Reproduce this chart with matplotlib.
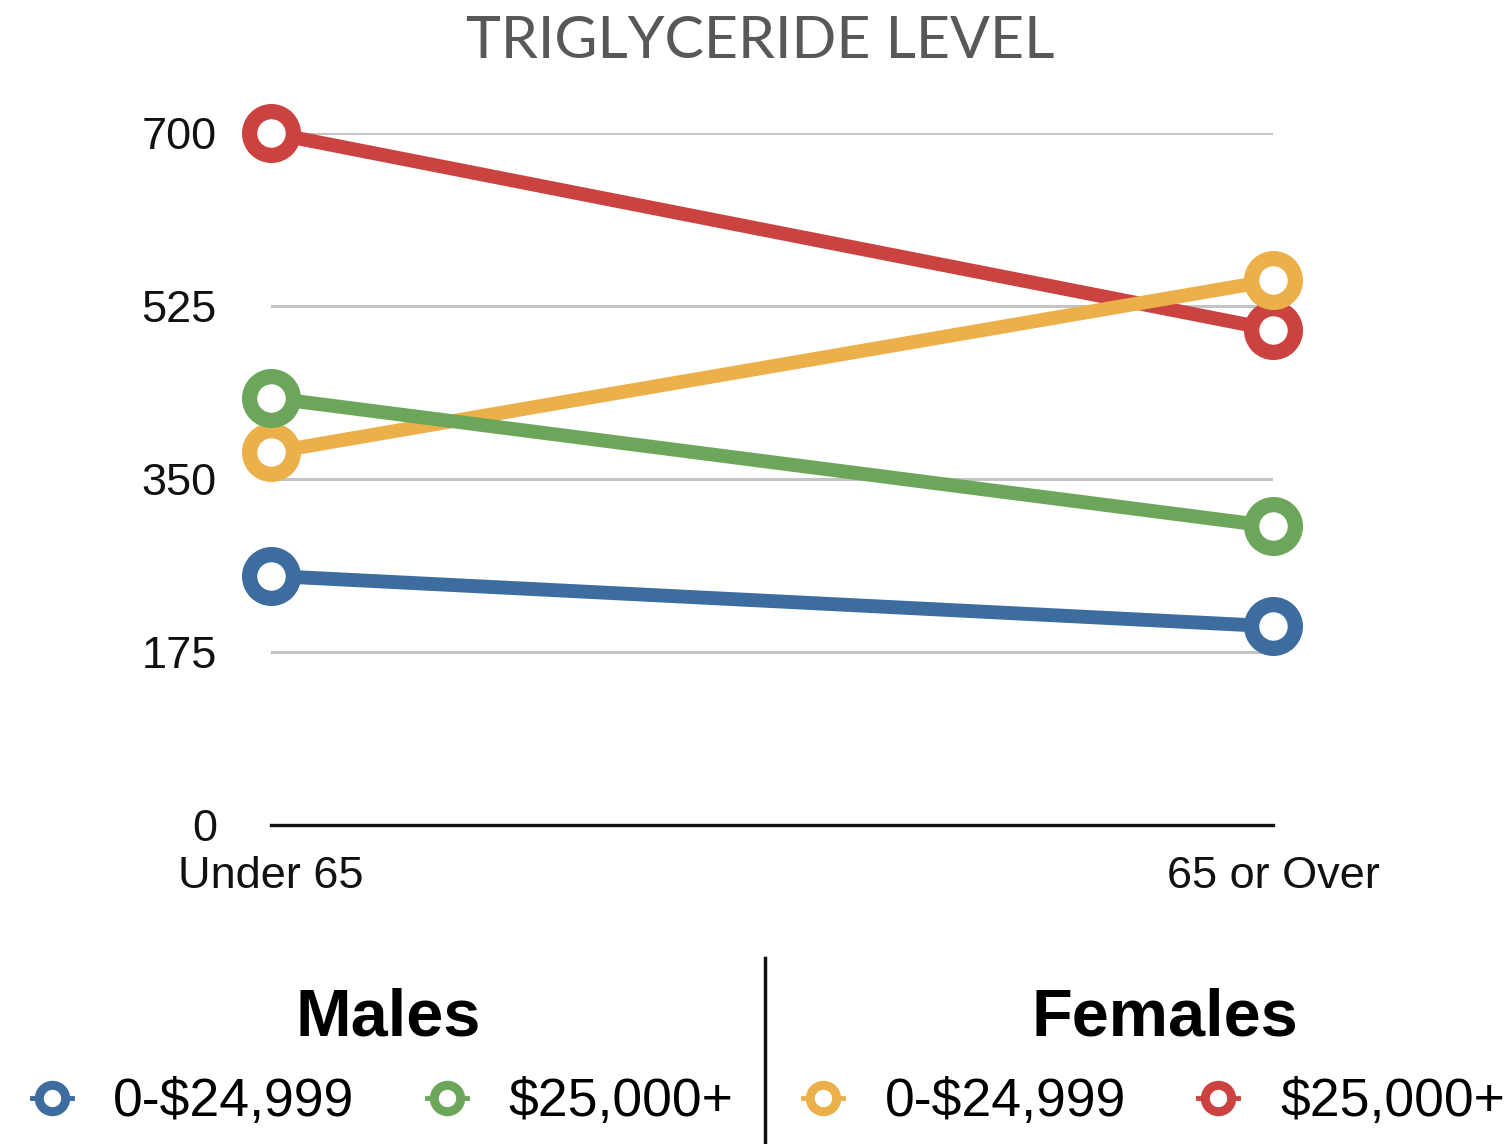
import matplotlib
matplotlib.use("Agg")
import matplotlib.pyplot as plt
from matplotlib.lines import Line2D

# data
groups = ["Under 65", "65 or Over"]
male_low = [252, 201]
male_high = [432, 302]
female_low = [377, 551]
female_high = [700, 501]
yticks = [0, 175, 350, 525, 700]

blue = "#3d6c9f"
green = "#6ca65a"
yellow = "#ecb04a"
red = "#cb4341"

plt.rcParams['font.family'] = ['Liberation Sans', 'DejaVu Sans']

fig = plt.figure(figsize=(15.12, 11.44), dpi=100)
ax = fig.add_axes([271/1512, 1-825/1144, (1273-271)/1512, (825-133)/1144])

xs = list(range(len(groups)))
# drawn in reverse so the male lines sit on top
series = [(female_high, red), (female_low, yellow), (male_high, green), (male_low, blue)]
for ys, c in series:
    ax.plot(xs, ys, color=c, lw=10, marker='o', ms=31.5, mew=11,
            mfc='white', mec=c, clip_on=False, solid_capstyle='butt')

ax.set_xlim(0, 1)
ax.set_ylim(0, 700)
ax.set_yticks(yticks)
ax.set_yticklabels([str(v) for v in yticks])
ax.set_xticks(xs)
ax.set_xticklabels(groups)
ax.tick_params(axis='y', length=0, pad=39, labelsize=32.5, labelcolor='#111111')
ax.tick_params(axis='x', length=0, pad=22, labelsize=32.5, labelcolor='#111111')
ax.yaxis.grid(True, color='#c4c4c4', lw=2.2)
ax.set_axisbelow(True)
for s in ['top', 'right', 'left']:
    ax.spines[s].set_visible(False)
ax.spines['bottom'].set_color('#111111')
ax.spines['bottom'].set_linewidth(2.4)
ax.spines['bottom'].set_zorder(1)

fig.text(760/1512, 1-42/1144, "TRIGLYCERIDE LEVEL", ha='center', va='center',
         fontsize=42.5, color='#585858', family=['Lato', 'DejaVu Sans'])

# legend
fig.text(388/1512, 1-1019/1144, "Males", ha='center', va='center',
         fontsize=48, fontweight='bold', color='black')
fig.text(1165/1512, 1-1019/1144, "Females", ha='center', va='center',
         fontsize=48, fontweight='bold', color='black')

labels = ["0-$24,999", "$25,000+", "0-$24,999", "$25,000+"]
colors = [blue, green, yellow, red]
mx = [52, 447, 823, 1218]
tx = [113, 508, 885, 1280]
ly = 1 - 1098/1144
for lab, c, m, t in zip(labels, colors, mx, tx):
    fig.add_artist(Line2D([(m-20)/1512, (m+20)/1512], [ly, ly], color=c, lw=3.5,
                          transform=fig.transFigure))
    fig.add_artist(Line2D([m/1512], [ly], color=c, marker='o', ms=19, mew=6.5,
                          mfc='white', mec=c, transform=fig.transFigure))
    fig.text(t/1512, 1-1102/1144, lab, ha='left', va='center', fontsize=38.5, color='black')

fig.add_artist(Line2D([765/1512, 765/1512], [1-958/1144, 0], color='#111111', lw=2.5,
                      transform=fig.transFigure))

fig.savefig("out.png", dpi=100)
